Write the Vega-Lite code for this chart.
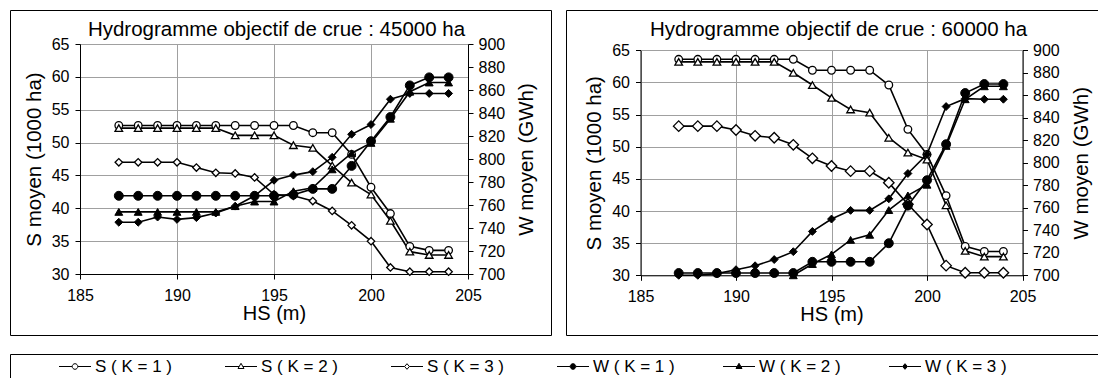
{
  "$schema": "https://vega.github.io/schema/vega-lite/v6.json",
  "padding": {"left": 9, "top": 9, "right": 0, "bottom": 0},
  "background": "white",
  "config": {
    "font": "Liberation Sans",
    "view": {"stroke": "black", "strokeWidth": 1}
  },
  "datasets": {
    "d": [
      {"p":"45000","HS":187,"S1":52.6,"S2":52.2,"S3":47.0,"W1":768,"W2":754,"W3":745},
      {"p":"45000","HS":188,"S1":52.6,"S2":52.2,"S3":47.0,"W1":768,"W2":754,"W3":745},
      {"p":"45000","HS":189,"S1":52.6,"S2":52.2,"S3":47.0,"W1":768,"W2":754,"W3":749.5},
      {"p":"45000","HS":190,"S1":52.6,"S2":52.2,"S3":47.0,"W1":768,"W2":754,"W3":747.5},
      {"p":"45000","HS":191,"S1":52.6,"S2":52.2,"S3":46.2,"W1":768,"W2":754,"W3":749},
      {"p":"45000","HS":192,"S1":52.6,"S2":52.2,"S3":45.4,"W1":768,"W2":754,"W3":753},
      {"p":"45000","HS":193,"S1":52.6,"S2":51.1,"S3":45.3,"W1":768,"W2":759,"W3":759},
      {"p":"45000","HS":194,"S1":52.6,"S2":51.1,"S3":44.7,"W1":768,"W2":763,"W3":768},
      {"p":"45000","HS":195,"S1":52.6,"S2":51.1,"S3":42.1,"W1":768,"W2":763,"W3":781.5},
      {"p":"45000","HS":196,"S1":52.6,"S2":49.6,"S3":41.9,"W1":769,"W2":772,"W3":786},
      {"p":"45000","HS":197,"S1":51.5,"S2":49.2,"S3":41.1,"W1":774,"W2":775,"W3":789},
      {"p":"45000","HS":198,"S1":51.5,"S2":46.5,"S3":39.6,"W1":774,"W2":791,"W3":801.5},
      {"p":"45000","HS":199,"S1":48.2,"S2":43.9,"S3":37.4,"W1":794,"W2":805,"W3":821.5},
      {"p":"45000","HS":200,"S1":43.2,"S2":42.1,"S3":35.0,"W1":815.5,"W2":814,"W3":830},
      {"p":"45000","HS":201,"S1":39.2,"S2":38.1,"S3":31.0,"W1":836.5,"W2":835,"W3":852},
      {"p":"45000","HS":202,"S1":34.2,"S2":33.4,"S3":30.35,"W1":864,"W2":858.5,"W3":857},
      {"p":"45000","HS":203,"S1":33.6,"S2":32.9,"S3":30.35,"W1":871,"W2":866.5,"W3":857},
      {"p":"45000","HS":204,"S1":33.6,"S2":32.9,"S3":30.35,"W1":871,"W2":866.5,"W3":857},
      {"p":"60000","HS":187,"S1":63.6,"S2":63.2,"S3":53.2,"W1":702,"W2":null,"W3":700},
      {"p":"60000","HS":188,"S1":63.6,"S2":63.2,"S3":53.2,"W1":702,"W2":null,"W3":700},
      {"p":"60000","HS":189,"S1":63.6,"S2":63.2,"S3":53.2,"W1":702,"W2":null,"W3":701.5},
      {"p":"60000","HS":190,"S1":63.6,"S2":63.2,"S3":52.6,"W1":702,"W2":null,"W3":705},
      {"p":"60000","HS":191,"S1":63.6,"S2":63.2,"S3":51.7,"W1":702,"W2":null,"W3":708.5},
      {"p":"60000","HS":192,"S1":63.6,"S2":63.2,"S3":51.4,"W1":702,"W2":null,"W3":714},
      {"p":"60000","HS":193,"S1":63.6,"S2":61.5,"S3":50.3,"W1":702,"W2":700,"W3":721},
      {"p":"60000","HS":194,"S1":61.9,"S2":59.6,"S3":48.2,"W1":712,"W2":710,"W3":739},
      {"p":"60000","HS":195,"S1":61.9,"S2":57.6,"S3":47.0,"W1":712,"W2":718.6,"W3":750},
      {"p":"60000","HS":196,"S1":61.9,"S2":55.8,"S3":46.2,"W1":712,"W2":731.5,"W3":757.7},
      {"p":"60000","HS":197,"S1":61.9,"S2":55.3,"S3":46.2,"W1":712,"W2":736,"W3":757.7},
      {"p":"60000","HS":198,"S1":59.6,"S2":51.4,"S3":44.4,"W1":728.5,"W2":758,"W3":768},
      {"p":"60000","HS":199,"S1":52.7,"S2":49.1,"S3":41.05,"W1":762,"W2":771,"W3":790.5},
      {"p":"60000","HS":200,"S1":48.8,"S2":48.0,"S3":37.9,"W1":784.5,"W2":780.5,"W3":807.5},
      {"p":"60000","HS":201,"S1":42.4,"S2":40.9,"S3":31.5,"W1":816.5,"W2":815,"W3":850},
      {"p":"60000","HS":202,"S1":34.5,"S2":33.8,"S3":30.4,"W1":862,"W2":856.5,"W3":857},
      {"p":"60000","HS":203,"S1":33.7,"S2":32.9,"S3":30.4,"W1":870,"W2":868,"W3":856.5},
      {"p":"60000","HS":204,"S1":33.7,"S2":32.9,"S3":30.4,"W1":870,"W2":868,"W3":856.5}
    ],
    "leg": [
      {"k":"S1","label":"S ( K = 1 )"},
      {"k":"S2","label":"S ( K = 2 )"},
      {"k":"S3","label":"S ( K = 3 )"},
      {"k":"W1","label":"W ( K = 1 )"},
      {"k":"W2","label":"W ( K = 2 )"},
      {"k":"W3","label":"W ( K = 3 )"}
    ]
  },
  "resolve": {"scale": {"shape": "independent", "fill": "independent", "x": "independent"}},
  "spacing": 17,
  "vconcat": [
    {
      "spacing": 15,
      "bounds": "flush",
      "resolve": {"scale": {"x": "independent", "y": "independent"}},
      "hconcat": [
        {
          "width": 541,
          "height": 325,
          "data": {"name": "d"},
          "transform": [{"filter": "datum.p === '45000'"}],
          "resolve": {"scale": {"y": "independent"}, "axis": {"x": "independent", "y": "independent"}},
          "layer": [
            {
              "transform": [{"fold": ["S1", "S2", "S3"], "as": ["s", "v"]}],
              "encoding": {
                "x": {"field": "HS", "type": "quantitative", "scale": {"domain": [185, 205], "range": [70, 458], "nice": false, "zero": false},
                  "axis": {"orient": "bottom", "offset": -61, "values": [185, 190, 195, 200, 205], "grid": false, "domainColor": "black", "tickColor": "black", "tickSize": 5, "labelFontSize": 16, "labelColor": "black", "labelPadding": 8, "labelFlush": false, "labelOverlap": false, "title": "HS (m)", "titleFontSize": 20, "titleFontWeight": "normal", "titleColor": "black", "titlePadding": 0}},
                "y": {"field": "v", "type": "quantitative", "scale": {"domain": [30, 65], "range": [264, 34], "nice": false, "zero": false},
                  "axis": {"orient": "left", "offset": -70, "values": [30, 35, 40, 45, 50, 55, 60, 65], "grid": true, "gridColor": "#a0a0a0", "domainColor": "black", "tickColor": "black", "tickSize": 5, "labelFontSize": 16, "labelColor": "black", "labelPadding": 6, "labelFlush": false, "labelOverlap": false, "title": "S moyen (1000 ha)", "titleFontSize": 20.5, "titleFontWeight": "normal", "titleColor": "black", "titlePadding": 7}}
              },
              "layer": [
                {"mark": {"type": "line", "stroke": "black", "strokeWidth": 1.6}, "encoding": {"detail": {"field": "s"}}},
                {"mark": {"type": "point", "filled": true, "stroke": "black", "strokeWidth": 1.3, "opacity": 1},
                  "encoding": {
                    "shape": {"field": "s", "scale": {"domain": ["S1", "S2", "S3", "W1", "W2", "W3"], "range": ["circle", "triangle-up", "diamond", "circle", "triangle-up", "diamond"]}, "legend": null},
                    "fill": {"field": "s", "scale": {"domain": ["S1", "S2", "S3", "W1", "W2", "W3"], "range": ["white", "white", "white", "black", "black", "black"]}, "legend": null},
                    "size": {"condition": {"test": "datum.s === 'S3'", "value": 55}, "value": 58}
                  }}
              ]
            },
            {
              "transform": [{"fold": ["W1", "W2", "W3"], "as": ["s", "v"]}],
              "encoding": {
                "x": {"field": "HS", "type": "quantitative", "scale": {"domain": [185, 205], "range": [70, 458], "nice": false, "zero": false},
                  "axis": {"orient": "top", "offset": -34, "values": [185, 190, 195, 200, 205], "grid": true, "gridColor": "#a0a0a0", "domain": false, "ticks": false, "labels": false, "title": "Hydrogramme objectif de crue : 45000 ha", "titleFontSize": 20.5, "titleFontWeight": "normal", "titleColor": "black", "titleBaseline": "alphabetic", "titlePadding": 9, "titleX": 266}},
                "y": {"field": "v", "type": "quantitative", "scale": {"domain": [700, 900], "range": [264, 34], "nice": false, "zero": false},
                  "axis": {"orient": "right", "offset": -83, "values": [700, 720, 740, 760, 780, 800, 820, 840, 860, 880, 900], "grid": false, "domainColor": "black", "tickColor": "black", "tickSize": 5, "labelFontSize": 16, "labelColor": "black", "labelPadding": 5, "labelFlush": false, "labelOverlap": false, "title": "W moyen (GWh)", "titleFontSize": 20.5, "titleFontWeight": "normal", "titleColor": "black", "titleAngle": 270, "titleBaseline": "top", "titlePadding": 12}}
              },
              "layer": [
                {"mark": {"type": "line", "stroke": "black", "strokeWidth": 1.6}, "encoding": {"detail": {"field": "s"}}},
                {"mark": {"type": "point", "filled": true, "stroke": "black", "strokeWidth": 1, "opacity": 1},
                  "encoding": {
                    "shape": {"field": "s", "scale": {"domain": ["S1", "S2", "S3", "W1", "W2", "W3"], "range": ["circle", "triangle-up", "diamond", "circle", "triangle-up", "diamond"]}, "legend": null},
                    "fill": {"field": "s", "scale": {"domain": ["S1", "S2", "S3", "W1", "W2", "W3"], "range": ["white", "white", "white", "black", "black", "black"]}, "legend": null},
                    "size": {"condition": {"test": "datum.s === 'W1'", "value": 80}, "value": 62}
                  }}
              ]
            }
          ]
        },
        {
          "width": 532,
          "height": 325,
          "data": {"name": "d"},
          "transform": [{"filter": "datum.p === '60000'"}],
          "resolve": {"scale": {"y": "independent"}, "axis": {"x": "independent", "y": "independent"}},
          "layer": [
            {
              "transform": [{"fold": ["S1", "S2", "S3"], "as": ["s", "v"]}],
              "encoding": {
                "x": {"field": "HS", "type": "quantitative", "scale": {"domain": [185, 205], "range": [74.5, 456.5], "nice": false, "zero": false},
                  "axis": {"orient": "bottom", "offset": -59.7, "values": [185, 190, 195, 200, 205], "grid": false, "domainColor": "black", "tickColor": "black", "tickSize": 5, "labelFontSize": 16, "labelColor": "black", "labelPadding": 8, "labelFlush": false, "labelOverlap": false, "title": "HS (m)", "titleFontSize": 20, "titleFontWeight": "normal", "titleColor": "black", "titlePadding": 0}},
                "y": {"field": "v", "type": "quantitative", "scale": {"domain": [30, 65], "range": [265.3, 40.3], "nice": false, "zero": false},
                  "axis": {"orient": "left", "offset": -74.5, "values": [30, 35, 40, 45, 50, 55, 60, 65], "grid": true, "gridColor": "#a0a0a0", "domainColor": "black", "tickColor": "black", "tickSize": 5, "labelFontSize": 16, "labelColor": "black", "labelPadding": 6, "labelFlush": false, "labelOverlap": false, "title": "S moyen (1000 ha)", "titleFontSize": 20.5, "titleFontWeight": "normal", "titleColor": "black", "titlePadding": 7}}
              },
              "layer": [
                {"mark": {"type": "line", "stroke": "black", "strokeWidth": 1.6}, "encoding": {"detail": {"field": "s"}}},
                {"mark": {"type": "point", "filled": true, "stroke": "black", "strokeWidth": 1.3, "opacity": 1},
                  "encoding": {
                    "shape": {"field": "s", "scale": {"domain": ["S1", "S2", "S3", "W1", "W2", "W3"], "range": ["circle", "triangle-up", "diamond", "circle", "triangle-up", "diamond"]}, "legend": null},
                    "fill": {"field": "s", "scale": {"domain": ["S1", "S2", "S3", "W1", "W2", "W3"], "range": ["white", "white", "white", "black", "black", "black"]}, "legend": null},
                    "size": {"condition": {"test": "datum.s === 'S3'", "value": 110}, "value": 58}
                  }}
              ]
            },
            {
              "transform": [{"fold": ["W1", "W2", "W3"], "as": ["s", "v"]}],
              "encoding": {
                "x": {"field": "HS", "type": "quantitative", "scale": {"domain": [185, 205], "range": [74.5, 456.5], "nice": false, "zero": false},
                  "axis": {"orient": "top", "offset": -40.3, "values": [185, 190, 195, 200, 205], "grid": true, "gridColor": "#a0a0a0", "domain": false, "ticks": false, "labels": false, "title": "Hydrogramme objectif de crue : 60000 ha", "titleFontSize": 20.5, "titleFontWeight": "normal", "titleColor": "black", "titleBaseline": "alphabetic", "titlePadding": 15, "titleX": 272}},
                "y": {"field": "v", "type": "quantitative", "scale": {"domain": [700, 900], "range": [265.3, 40.3], "nice": false, "zero": false},
                  "axis": {"orient": "right", "offset": -75.5, "values": [700, 720, 740, 760, 780, 800, 820, 840, 860, 880, 900], "grid": false, "domainColor": "black", "tickColor": "black", "tickSize": 5, "labelFontSize": 16, "labelColor": "black", "labelPadding": 5, "labelFlush": false, "labelOverlap": false, "title": "W moyen (GWh)", "titleFontSize": 20.5, "titleFontWeight": "normal", "titleColor": "black", "titleAngle": 270, "titleBaseline": "top", "titlePadding": 12}}
              },
              "layer": [
                {"mark": {"type": "line", "stroke": "black", "strokeWidth": 1.6}, "encoding": {"detail": {"field": "s"}}},
                {"mark": {"type": "point", "filled": true, "stroke": "black", "strokeWidth": 1, "opacity": 1},
                  "encoding": {
                    "shape": {"field": "s", "scale": {"domain": ["S1", "S2", "S3", "W1", "W2", "W3"], "range": ["circle", "triangle-up", "diamond", "circle", "triangle-up", "diamond"]}, "legend": null},
                    "fill": {"field": "s", "scale": {"domain": ["S1", "S2", "S3", "W1", "W2", "W3"], "range": ["white", "white", "white", "black", "black", "black"]}, "legend": null},
                    "size": {"condition": {"test": "datum.s === 'W1'", "value": 80}, "value": 62}
                  }}
              ]
            }
          ]
        }
      ]
    },
    {
      "width": 1088,
      "height": 25,
      "data": {"name": "leg"},
      "encoding": {
        "x": {"field": "k", "type": "nominal", "scale": {"type": "point", "domain": ["S1", "S2", "S3", "W1", "W2", "W3"], "range": [65, 895], "padding": 0}, "axis": null}
      },
      "layer": [
        {"mark": {"type": "point", "filled": true, "stroke": "black", "strokeWidth": 1, "opacity": 1, "size": 64},
          "encoding": {
            "shape": {"field": "k", "scale": {"domain": ["S1", "S2", "S3", "W1", "W2", "W3"], "range": [
              "M-4,0H-0.7M0.7,0H4M0.7,0C0.7,0.387,0.387,0.7,0,0.7C-0.387,0.7,-0.7,0.387,-0.7,0C-0.7,-0.387,-0.387,-0.7,0,-0.7C0.387,-0.7,0.7,-0.387,0.7,0Z",
              "M-4,0H-0.46M0.46,0H4M0,-0.8L0.75,0.5L-0.75,0.5Z",
              "M-4,0H-0.6M0.6,0H4M0,-0.7L0.6,0L0,0.7L-0.6,0Z",
              "M-4,0H-0.7M0.7,0H4M0.7,0C0.7,0.387,0.387,0.7,0,0.7C-0.387,0.7,-0.7,0.387,-0.7,0C-0.7,-0.387,-0.387,-0.7,0,-0.7C0.387,-0.7,0.7,-0.387,0.7,0Z",
              "M-4,0H-0.46M0.46,0H4M0,-0.8L0.75,0.5L-0.75,0.5Z",
              "M-4,0H-0.6M0.6,0H4M0,-0.7L0.6,0L0,0.7L-0.6,0Z"
            ]}, "legend": null},
            "fill": {"field": "k", "scale": {"domain": ["S1", "S2", "S3", "W1", "W2", "W3"], "range": ["white", "white", "white", "black", "black", "black"]}, "legend": null}
          }},
        {"mark": {"type": "text", "align": "left", "dx": 20, "fontSize": 17, "color": "black"},
          "encoding": {"text": {"field": "label"}}}
      ]
    }
  ]
}
